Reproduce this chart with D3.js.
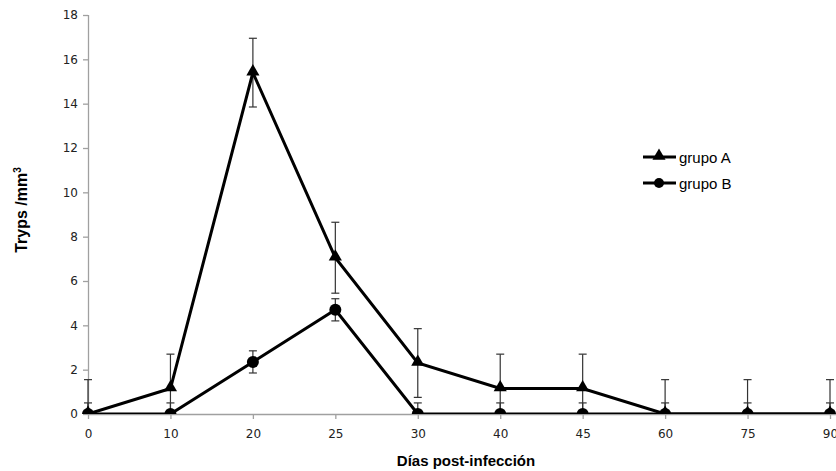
<!DOCTYPE html>
<html>
<head>
	<script src="https://cdn.jsdelivr.net/npm/d3@7/dist/d3.min.js"></script>
	<style>
		html, body {
			padding: 0;
			margin: 0;
			background: #fff;
		}
	</style>
</head>
<body>
	<script>
		var width = 836, height = 471;

		// data
		var days = ['0', '10', '20', '25', '30', '40', '45', '60', '75', '90'];
		var grupoA = [0, 1.15, 15.4, 7.05, 2.3, 1.15, 1.15, 0, 0, 0];
		var errA = [1.55, 1.55, 1.55, 1.6, 1.55, 1.55, 1.55, 1.55, 1.55, 1.55];
		var grupoB = [0, 0, 2.35, 4.7, 0, 0, 0, 0, 0, 0];
		var errB = [0.5, 0.5, 0.5, 0.5, 0.5, 0.5, 0.5, 0.5, 0.5, 0.5];
		var yTicks = [0, 2, 4, 6, 8, 10, 12, 14, 16, 18];

		var plotLeft = 88, plotRight = 830, plotTop = 15, plotBottom = 414;

		var svg = d3.select('body').append('svg')
			.attr('width', width)
			.attr('height', height);

		var x = d3.scalePoint().domain(days).range([plotLeft, plotRight]);
		var y = d3.scaleLinear().domain([0, 18]).range([plotBottom, plotTop]);

		svg.append('defs').append('clipPath').attr('id', 'plot')
			.append('rect')
			.attr('x', 0).attr('y', plotTop - 10)
			.attr('width', width).attr('height', plotBottom - plotTop + 10);

		// y axis
		var yAxis = svg.append('g')
			.attr('transform', 'translate(' + plotLeft + ',0)')
			.call(d3.axisLeft(y).tickValues(yTicks).tickSize(5).tickPadding(5));
		// x axis
		var xAxis = svg.append('g')
			.attr('transform', 'translate(0,' + plotBottom + ')')
			.call(d3.axisBottom(x).tickSize(5).tickPadding(10).tickSizeOuter(0));

		[yAxis, xAxis].forEach(function(ax) {
			ax.select('.domain').attr('stroke', '#a0a0a0').attr('stroke-width', 1.3);
			ax.selectAll('.tick line').attr('stroke', '#a0a0a0').attr('stroke-width', 1.3);
			ax.selectAll('.tick text')
				.attr('font-family', 'DejaVu Sans, Verdana, sans-serif')
				.attr('font-size', 12)
				.attr('fill', '#222');
		});
		yAxis.select('.domain').attr('d', 'M0.5,' + plotBottom + 'V' + plotTop);
		xAxis.select('.domain').attr('d', 'M' + plotLeft + ',0.5H' + width);

		// axis titles
		svg.append('text')
			.attr('transform', 'translate(27,210) rotate(-90)')
			.attr('text-anchor', 'middle')
			.attr('font-family', 'Liberation Sans, Arial, sans-serif')
			.attr('font-weight', 'bold')
			.attr('font-size', 16)
			.text('Tryps /mm')
			.append('tspan').attr('font-size', 10).attr('dy', -6).text('3');

		svg.append('text')
			.attr('x', 466).attr('y', 466)
			.attr('text-anchor', 'middle')
			.attr('font-family', 'Liberation Sans, Arial, sans-serif')
			.attr('font-weight', 'bold')
			.attr('font-size', 15)
			.text('Días post-infección');

		var plot = svg.append('g').attr('clip-path', 'url(#plot)');

		function errorBars(vals, errs) {
			var g = plot.append('g').attr('stroke', '#333').attr('stroke-width', 1.2);
			vals.forEach(function(v, i) {
				var cx = x(days[i]);
				var lo = y(v - errs[i]), hi = y(v + errs[i]);
				g.append('line').attr('x1', cx).attr('x2', cx).attr('y1', lo).attr('y2', hi);
				[lo, hi].forEach(function(yy) {
					g.append('line').attr('x1', cx - 4).attr('x2', cx + 4).attr('y1', yy).attr('y2', yy);
				});
			});
		}
		errorBars(grupoB, errB);
		errorBars(grupoA, errA);

		var line = d3.line().x(function(d, i) { return x(days[i]); }).y(function(d) { return y(d); });

		plot.append('path').datum(grupoB)
			.attr('d', line).attr('fill', 'none').attr('stroke', '#000').attr('stroke-width', 3);
		plot.append('path').datum(grupoA)
			.attr('d', line).attr('fill', 'none').attr('stroke', '#000').attr('stroke-width', 3);

		var tri = d3.symbol().type(d3.symbolTriangle).size(75);

		plot.selectAll('.ptB').data(grupoB).enter().append('circle')
			.attr('cx', function(d, i) { return x(days[i]); })
			.attr('cy', function(d) { return y(d); })
			.attr('r', 6).attr('fill', '#000');
		plot.selectAll('.ptA').data(grupoA).enter().append('path')
			.attr('d', tri)
			.attr('transform', function(d, i) { return 'translate(' + x(days[i]) + ',' + (y(d) - 1) + ')'; })
			.attr('fill', '#000');

		// legend
		var legend = svg.append('g').attr('transform', 'translate(643,157)');
		legend.append('line').attr('x1', 0).attr('x2', 33).attr('y1', 0).attr('y2', 0)
			.attr('stroke', '#000').attr('stroke-width', 3);
		legend.append('path').attr('d', tri).attr('transform', 'translate(16,-1)');
		legend.append('text').attr('x', 36).attr('y', 6)
			.attr('font-family', 'Liberation Sans, Arial, sans-serif').attr('font-size', 15)
			.text('grupo A');
		legend.append('line').attr('x1', 0).attr('x2', 33).attr('y1', 26).attr('y2', 26)
			.attr('stroke', '#000').attr('stroke-width', 3);
		legend.append('circle').attr('cx', 16).attr('cy', 26).attr('r', 5);
		legend.append('text').attr('x', 36).attr('y', 32)
			.attr('font-family', 'Liberation Sans, Arial, sans-serif').attr('font-size', 15)
			.text('grupo B');
	</script>
</body>
</html>
